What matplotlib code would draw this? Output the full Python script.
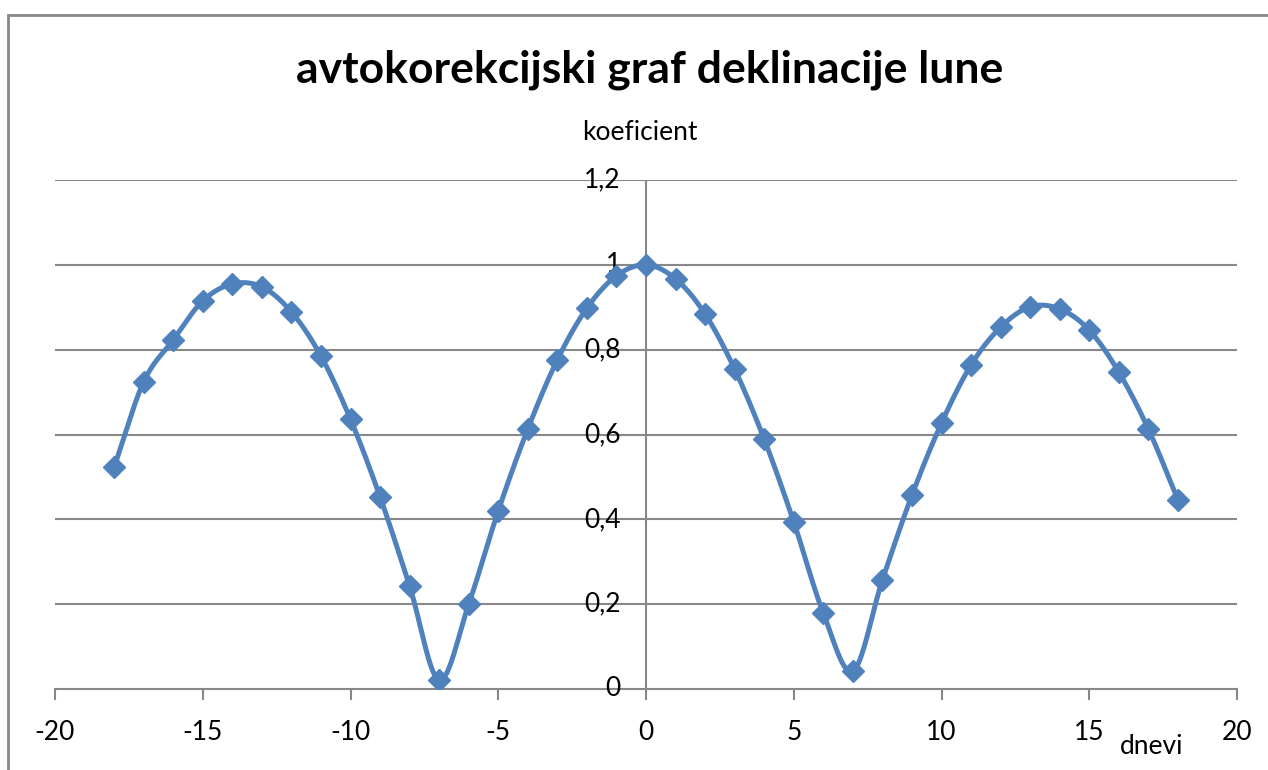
import numpy as np
import matplotlib.pyplot as plt
from matplotlib.patches import Rectangle

# lag in days and autocorrelation coefficient
days = list(range(-18, 19))
coef = [0.523, 0.724, 0.823, 0.915, 0.955, 0.948, 0.889, 0.785, 0.636, 0.453,
        0.243, 0.021, 0.200, 0.420, 0.613, 0.776, 0.898, 0.974, 1.000, 0.967,
        0.884, 0.754, 0.589, 0.394, 0.179, 0.042, 0.257, 0.457, 0.627, 0.764,
        0.853, 0.901, 0.896, 0.846, 0.747, 0.613, 0.446]
xticks = [-20, -15, -10, -5, 0, 5, 10, 15, 20]
yticks = [0, 0.2, 0.4, 0.6, 0.8, 1.0, 1.2]
ytick_labels = ["0", "0,2", "0,4", "0,6", "0,8", "1", "1,2"]

BLUE = "#4F81BD"
GRID = "#888888"
FONT = "Lato"
FS = 19


def smooth(x, y, steps=20):
    # Catmull-Rom style curve through the points, like a spreadsheet smoothed line
    x = np.asarray(x, float)
    y = np.asarray(y, float)
    px = np.concatenate([[2 * x[0] - x[1]], x, [2 * x[-1] - x[-2]]])
    py = np.concatenate([[2 * y[0] - y[1]], y, [2 * y[-1] - y[-2]]])
    t = np.linspace(0, 1, steps, endpoint=False)
    xs, ys = [], []
    for i in range(1, len(px) - 2):
        for p, out in ((px, xs), (py, ys)):
            p0, p1, p2, p3 = p[i - 1], p[i], p[i + 1], p[i + 2]
            c1 = p1 + (p2 - p0) / 6
            c2 = p2 - (p3 - p1) / 6
            out.extend((1 - t) ** 3 * p1 + 3 * (1 - t) ** 2 * t * c1
                       + 3 * (1 - t) * t ** 2 * c2 + t ** 3 * p2)
    xs.append(x[-1])
    ys.append(y[-1])
    return np.array(xs), np.array(ys)


fig = plt.figure(figsize=(12.68, 7.70), dpi=100)
fig.patches.append(Rectangle((8 / 1268, -0.1), 1.2, (755 + 77) / 770,
                             transform=fig.transFigure, fill=False,
                             edgecolor=GRID, linewidth=2))

ax = fig.add_axes([55 / 1268, 81 / 770, 1182 / 1268, 509 / 770])
ax.set_xlim(-20, 20)
ax.set_ylim(0, 1.2)

for v in yticks[1:]:
    ax.axhline(v, color=GRID, linewidth=1.5, zorder=1)
ax.axvline(0, color=GRID, linewidth=1.5, zorder=1)

sx, sy = smooth(days, coef)
ax.plot(sx, sy, color=BLUE, linewidth=3.6, zorder=3, solid_capstyle="round")
ax.plot(days, coef, linestyle="none", marker="D", markersize=11,
        color=BLUE, zorder=4)

for s in ["top", "right", "left"]:
    ax.spines[s].set_visible(False)
ax.spines["bottom"].set_color(GRID)
ax.spines["bottom"].set_linewidth(1.5)

ax.set_xticks(xticks)
ax.set_xticklabels([str(v) for v in xticks], fontsize=FS, family=FONT)
ax.tick_params(axis="x", length=8, width=1.5, color=GRID, pad=14)
ax.set_yticks([])
for v, lab in zip(yticks, ytick_labels):
    ax.text(-0.85, v, lab, ha="right", va="center", fontsize=FS, family=FONT)

fig.text(650 / 1268, 1 - 70 / 770, "avtokorekcijski graf deklinacije lune",
         ha="center", va="center", fontsize=32, fontweight="bold", family=FONT)
fig.text(640 / 1268, 1 - 133 / 770, "koeficient", ha="center", va="center",
         fontsize=FS, family=FONT)
fig.text(1152 / 1268, 1 - 746 / 770, "dnevi", ha="center", va="center",
         fontsize=FS, family=FONT)

fig.savefig("out.png", dpi=100)
